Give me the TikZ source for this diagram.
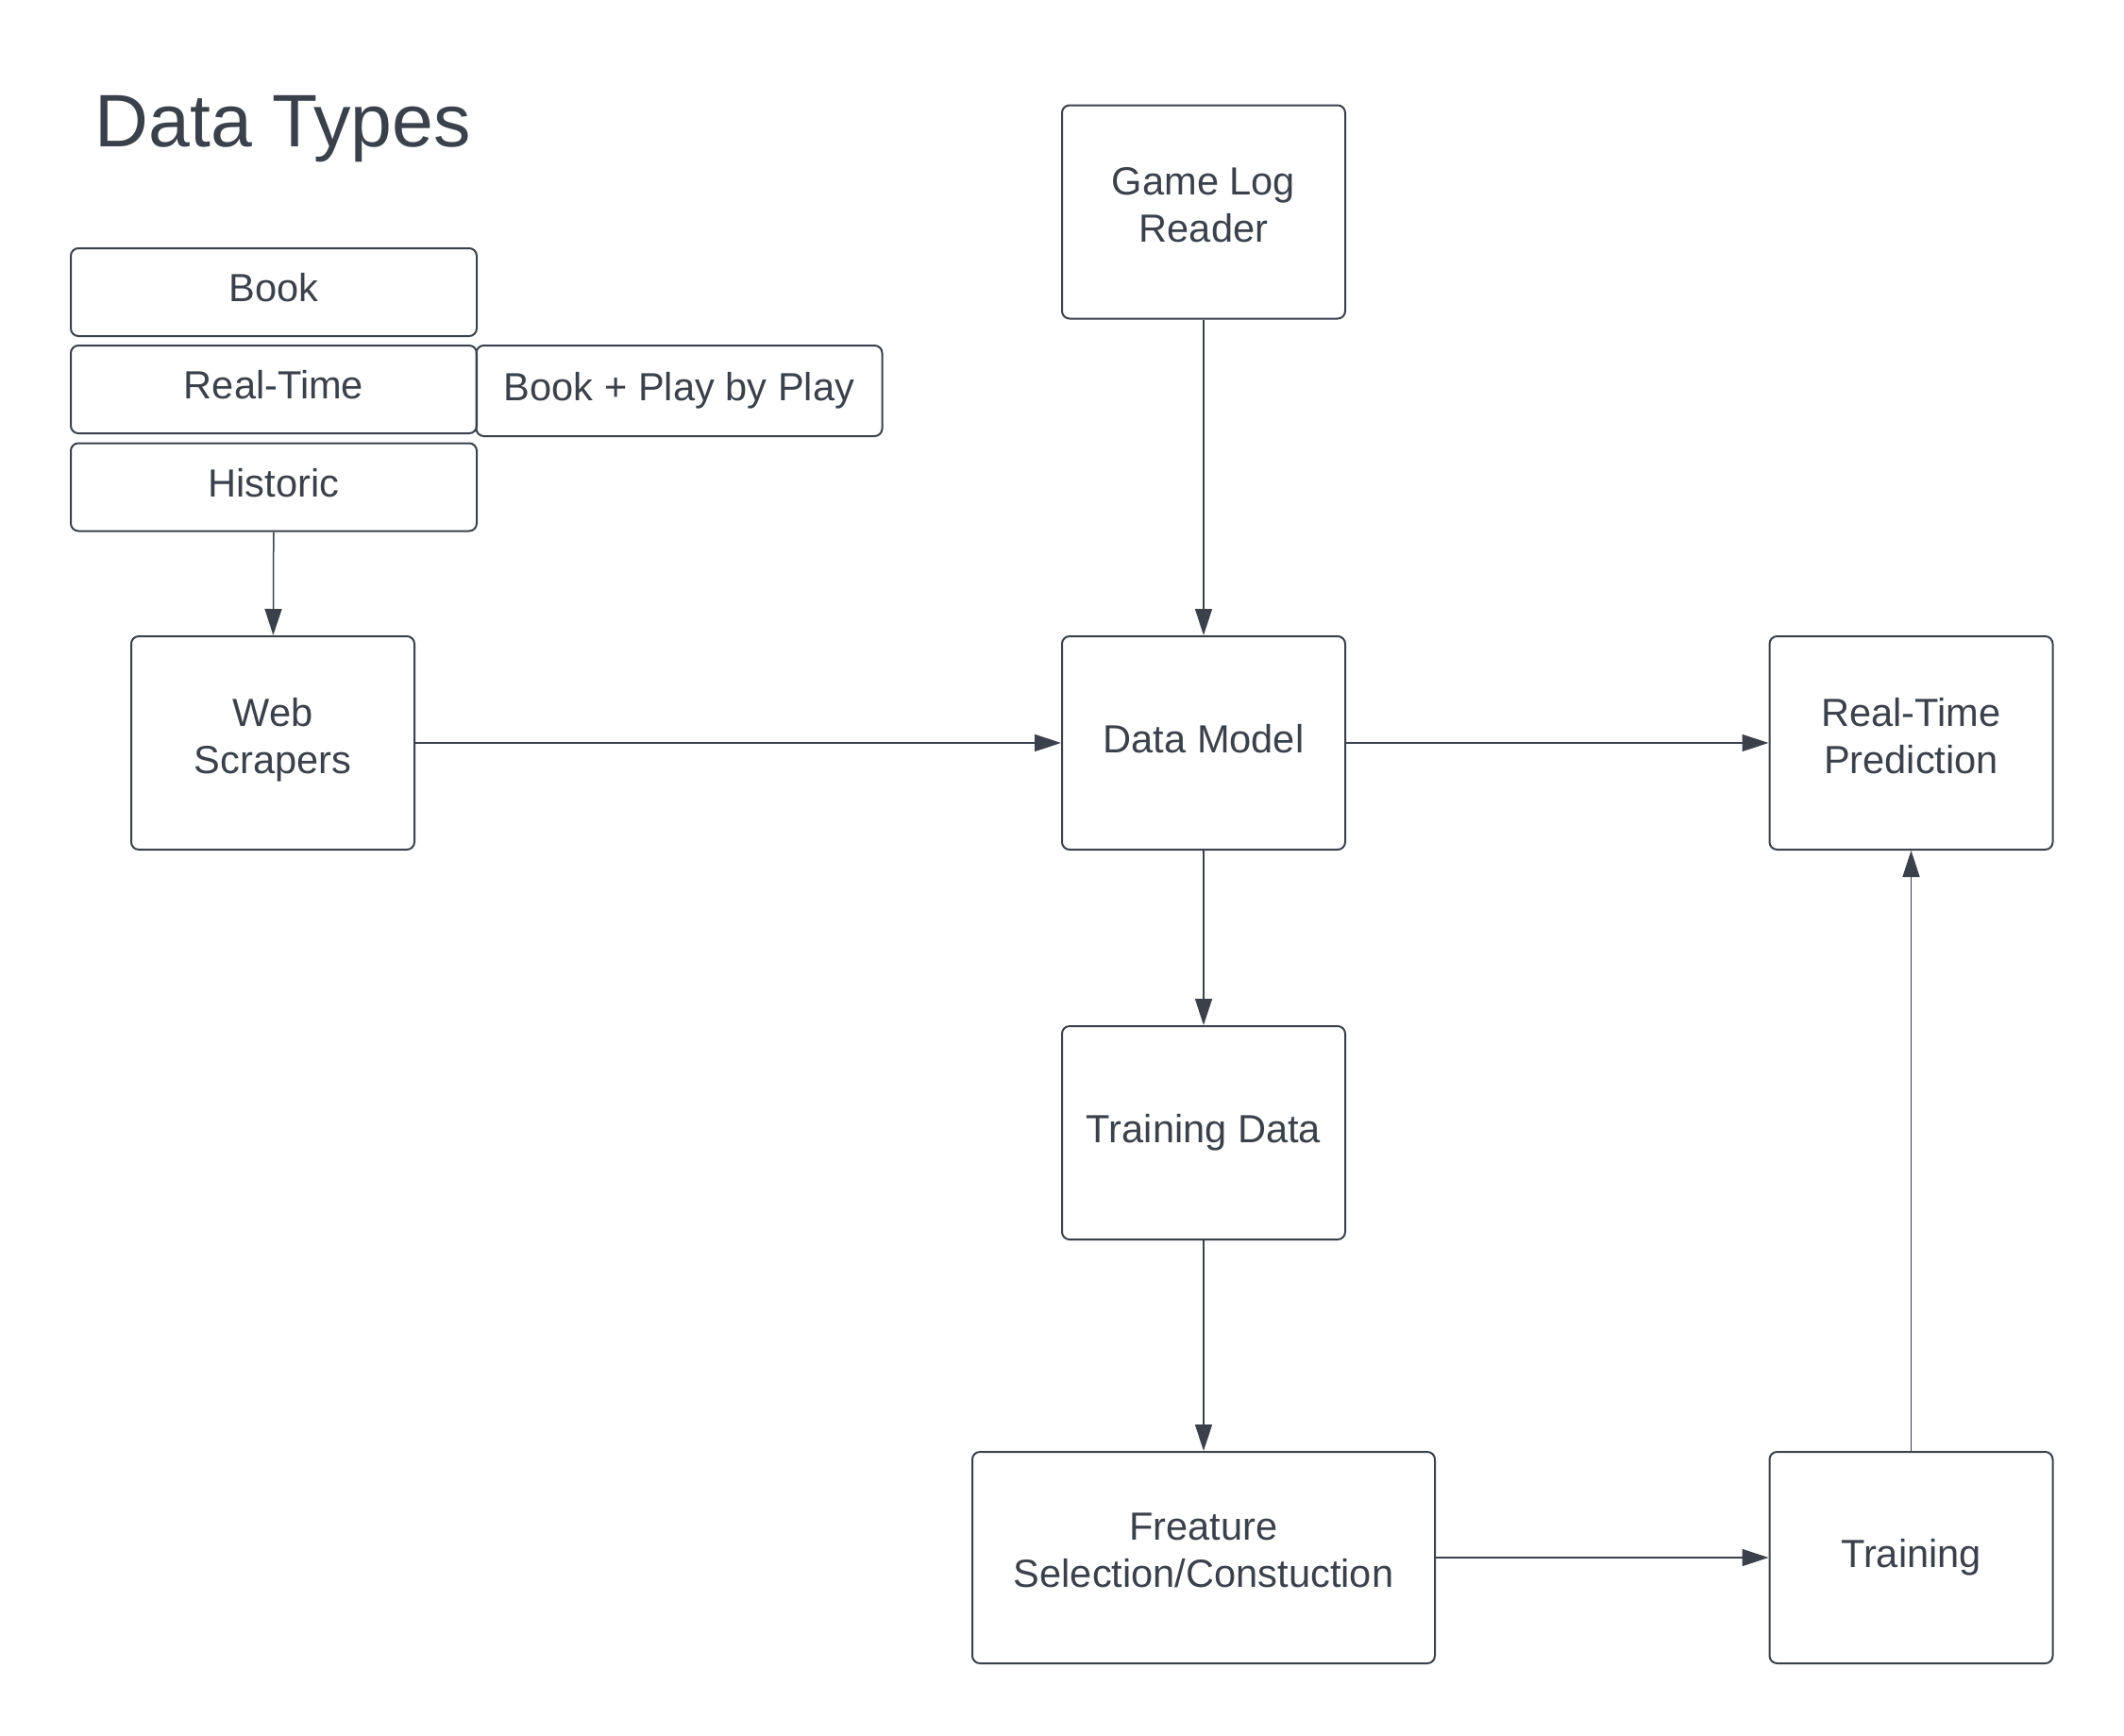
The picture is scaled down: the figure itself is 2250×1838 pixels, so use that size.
\documentclass[tikz,border=0pt]{standalone}
\usepackage{fontspec}
\setmainfont{Liberation Sans}
\usetikzlibrary{arrows.meta}
\definecolor{encre}{RGB}{58,65,74}
\begin{document}
\begin{tikzpicture}[x=0.5pt,y=-0.5pt]
% Styles
\tikzstyle{boite}=[draw=encre,line width=1pt,rounded corners=4pt,text=encre,align=center,inner sep=0pt,font=\fontsize{20.8}{25}\selectfont,execute at begin node=\strut,execute at end node=\strut]
\tikzstyle{petite}=[boite,minimum width=215pt,minimum height=46.5pt]
\tikzstyle{grande}=[boite,minimum width=150pt,minimum height=113pt]
\tikzstyle{fleche}=[-{Triangle[length=14pt,width=9pt]},draw=encre,line width=0.75pt]
% Cadre de l'image
\useasboundingbox (0,0) rectangle (2250,1838);
% Titre
\node[anchor=base west,text=encre,inner sep=0pt,font=\fontsize{39.4}{46}\selectfont] (titre) at (100,155) {Data Types};
% Types de données
\node[petite] (book) at (290,309.5) {Book};
\node[petite] (realtime) at (290,412.5) {Real-Time};
\node[petite] (historic) at (290,516) {Historic};
\node[petite,minimum height=48pt] (bookpbp) at (719.5,414) {Book + Play by Play};
% Colonne de gauche
\node[grande] (scrapers) at (289,787) {Web\\Scrapers};
% Colonne du milieu
\node[grande] (gamelog) at (1275,224.5) {Game Log\\Reader};
\node[grande] (datamodel) at (1275,787) {Data Model};
\node[grande] (trainingdata) at (1275,1200) {Training Data};
\node[grande,minimum width=245pt,minimum height=112pt] (feature) at (1275,1650) {Freature\\Selection/Constuction};
% Colonne de droite
\node[grande] (prediction) at (2024.5,787) {Real-Time\\Prediction};
\node[grande,minimum height=112pt] (training) at (2024.5,1650) {Training};
% Flèches
\draw[fleche] (historic) -- (scrapers);
\draw[fleche] (scrapers) -- (datamodel);
\draw[fleche] (gamelog) -- (datamodel);
\draw[fleche] (datamodel) -- (prediction);
\draw[fleche] (datamodel) -- (trainingdata);
\draw[fleche] (trainingdata) -- (feature);
\draw[fleche] (feature) -- (training);
\draw[fleche] (training) -- (prediction);
\end{tikzpicture}
\end{document}
